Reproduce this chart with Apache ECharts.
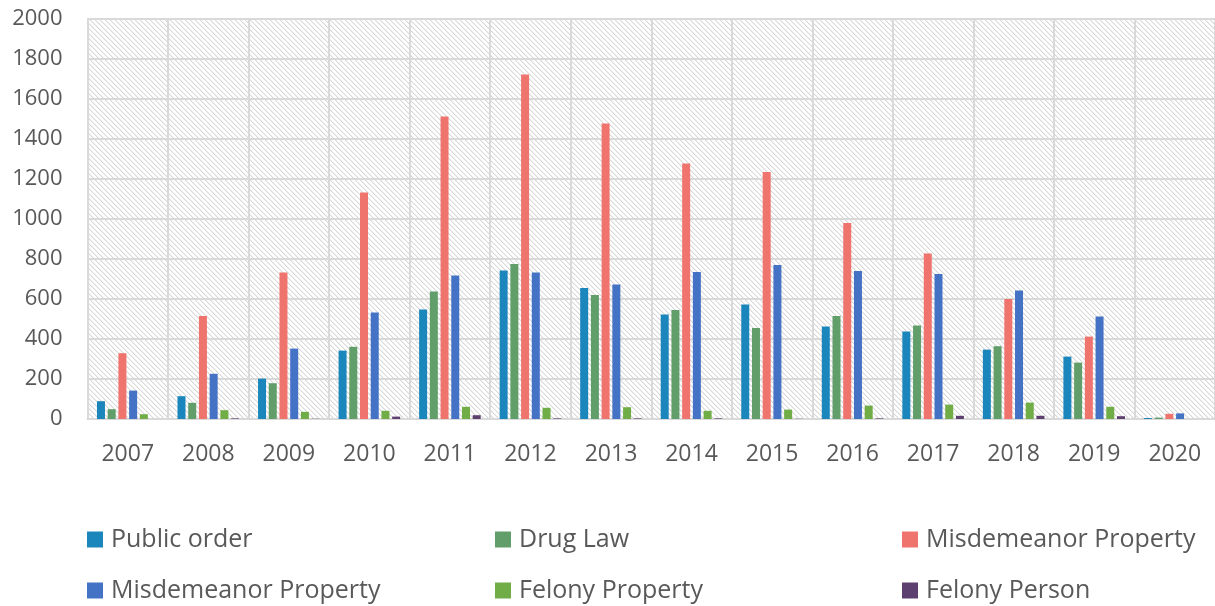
<!DOCTYPE html>
<html>
<head>
<meta charset="utf-8">
<title>Offences by year</title>
<script src="https://cdn.jsdelivr.net/npm/echarts@6/dist/echarts.min.js"></script>
<style>
    html, body { margin: 0; padding: 0; background: #fff; }
    #chart { width: 1215px; height: 606px; }
</style>
</head>
<body>
<div id="chart"></div>
<script>
const years = ['2007', '2008', '2009', '2010', '2011', '2012', '2013', '2014', '2015', '2016', '2017', '2018', '2019', '2020'];
const yTicks = [0, 200, 400, 600, 800, 1000, 1200, 1400, 1600, 1800, 2000];

const publicOrder = [89, 114, 202, 342, 548, 743, 655, 523, 572, 463, 437, 347, 312, 5];
const drugLaw = [49, 81, 179, 361, 637, 775, 620, 545, 455, 515, 467, 364, 282, 7];
const misdPropertyRed = [329, 515, 732, 1132, 1512, 1722, 1478, 1278, 1235, 980, 827, 600, 412, 26];
const misdPropertyBlue = [142, 226, 352, 532, 718, 732, 672, 735, 770, 740, 725, 643, 512, 28];
const felonyProperty = [24, 44, 36, 41, 61, 56, 59, 41, 47, 67, 72, 82, 61, 0];
const felonyPerson = [0, 3, 1, 12, 19, 3, 3, 3, 1, 3, 16, 16, 14, 0];

// second "Misdemeanor Property" gets a trailing space so the legend can tell them apart
const seriesNames = ['Public order', 'Drug Law', 'Misdemeanor Property', 'Misdemeanor Property ', 'Felony Property', 'Felony Person'];
const seriesColors = ['#1a86bb', '#619e6a', '#f0746e', '#4472c4', '#70ad47', '#5e4070'];
const seriesData = [publicOrder, drugLaw, misdPropertyRed, misdPropertyBlue, felonyProperty, felonyPerson];

// hatched plot background, like the spreadsheet's pattern fill
function makeHatch() {
    const size = 5;
    const c = document.createElement('canvas');
    c.width = size;
    c.height = size;
    const ctx = c.getContext('2d');
    ctx.fillStyle = '#ffffff';
    ctx.fillRect(0, 0, size, size);
    for (let y = 0; y < size; y++) {
        ctx.fillStyle = '#d8d8d8';
        ctx.fillRect(y % size, y, 1, 1);
        ctx.fillStyle = '#efefef';
        ctx.fillRect((y + 1) % size, y, 1, 1);
    }
    return c;
}

document.addEventListener('DOMContentLoaded', () => {
    const chart = echarts.init(document.getElementById('chart'));
    const font = '"Open Sans", "Noto Sans", sans-serif';
    const lineColor = '#d9d9d9';

    const series = seriesNames.map((name, i) => ({
        name: name,
        type: 'bar',
        data: seriesData[i],
        barWidth: 8,
        barGap: '34%',
        itemStyle: { color: seriesColors[i] }
    }));

    const legendText = { color: '#595959', fontSize: 25, fontFamily: font, padding: [0, 0, 0, 3] };
    const legendBase = {
        orient: 'vertical',
        top: 527,
        padding: 0,
        itemWidth: 16,
        itemHeight: 16,
        itemGap: 26,
        icon: 'rect',
        selectedMode: false,
        textStyle: legendText
    };

    const option = {
        animation: false,
        textStyle: { fontFamily: font },
        grid: {
            left: 87.5,
            right: -2,
            top: 19,
            bottom: 187,
            show: true,
            borderWidth: 0,
            backgroundColor: { image: makeHatch(), repeat: 'repeat' }
        },
        legend: [
            Object.assign({}, legendBase, { left: 87, data: [seriesNames[0], seriesNames[3]] }),
            Object.assign({}, legendBase, { left: 495, data: [seriesNames[1], seriesNames[4]] }),
            Object.assign({}, legendBase, { left: 902, data: [seriesNames[2], seriesNames[5]] })
        ],
        xAxis: {
            type: 'category',
            data: years,
            axisTick: { show: false },
            axisLine: { lineStyle: { color: lineColor, width: 2 } },
            splitLine: { show: true, lineStyle: { color: lineColor, width: 2 } },
            axisLabel: { color: '#595959', fontSize: 23, margin: 24 }
        },
        yAxis: {
            type: 'value',
            min: yTicks[0],
            max: yTicks[yTicks.length - 1],
            interval: yTicks[1] - yTicks[0],
            axisLine: { show: true, lineStyle: { color: lineColor, width: 2 } },
            axisTick: { show: false },
            splitLine: { lineStyle: { color: lineColor, width: 2 } },
            axisLabel: {
                color: '#595959',
                fontSize: 22,
                margin: 25,
                formatter: (v) => String(v)
            }
        },
        series: series
    };

    chart.setOption(option);
});
</script>
</body>
</html>
